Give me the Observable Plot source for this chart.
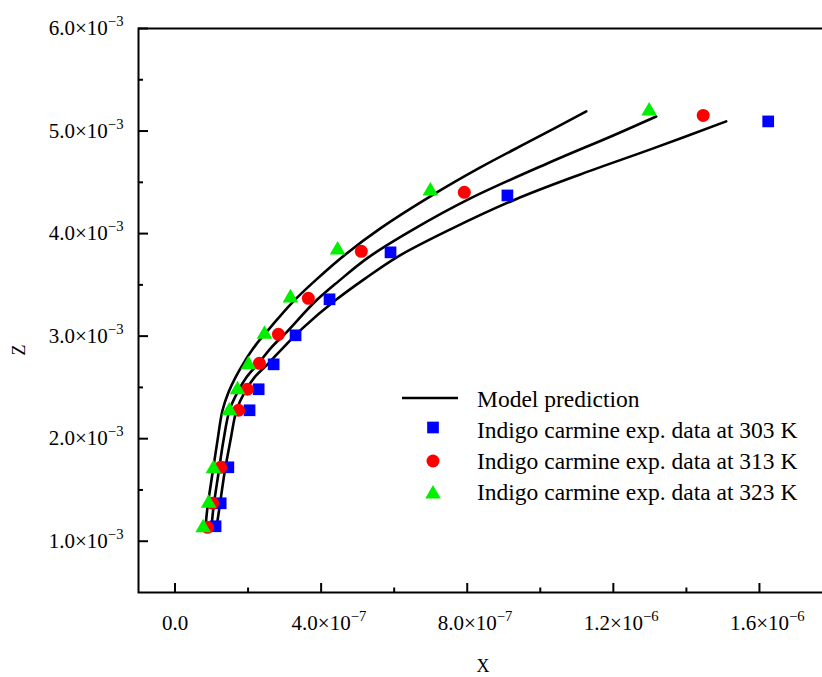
<!DOCTYPE html>
<html><head><meta charset="utf-8">
<script src="https://cdn.jsdelivr.net/npm/d3@7"></script>
<script src="https://cdn.jsdelivr.net/npm/@observablehq/plot@0.6"></script>
<style>
body{margin:0;background:#fff;}
#wrap{width:822px;height:677px;overflow:hidden;position:relative;background:#fff;}
</style></head><body><div id="wrap"></div>
<script>
// ---- tick definitions ----
const xTicks = [0, 4e-7, 8e-7, 1.2e-6, 1.6e-6];
const xTickLabels = ["0.0", "4.0×10^−7", "8.0×10^−7", "1.2×10^−6", "1.6×10^−6"];
const xMinorTicks = [2e-7, 6e-7, 1.0e-6, 1.4e-6];
const yTicks = [1e-3, 2e-3, 3e-3, 4e-3, 5e-3, 6e-3];
const yTickLabels = ["1.0×10^−3", "2.0×10^−3", "3.0×10^−3", "4.0×10^−3", "5.0×10^−3", "6.0×10^−3"];
const yMinorTicks = [1.5e-3, 2.5e-3, 3.5e-3, 4.5e-3, 5.5e-3];
const xTitle = "X";
const yTitle = "Z";
const legendLabels = ["Model prediction", "Indigo carmine exp. data at 303 K", "Indigo carmine exp. data at 313 K", "Indigo carmine exp. data at 323 K"];

// ---- experimental data ----
const x303 = [1.11e-7, 1.25e-7, 1.46e-7, 2.04e-7, 2.29e-7, 2.70e-7, 3.30e-7, 4.23e-7, 5.90e-7, 9.10e-7, 1.624e-6];
const z303 = [1.146e-3, 1.370e-3, 1.721e-3, 2.277e-3, 2.482e-3, 2.725e-3, 3.008e-3, 3.359e-3, 3.817e-3, 4.372e-3, 5.094e-3];
const x313 = [0.89e-7, 1.03e-7, 1.25e-7, 1.74e-7, 1.98e-7, 2.31e-7, 2.83e-7, 3.65e-7, 5.10e-7, 7.92e-7, 1.446e-6];
const z313 = [1.136e-3, 1.370e-3, 1.721e-3, 2.277e-3, 2.482e-3, 2.735e-3, 3.018e-3, 3.369e-3, 3.827e-3, 4.402e-3, 5.152e-3];
const x323 = [0.77e-7, 0.92e-7, 1.05e-7, 1.49e-7, 1.71e-7, 2.01e-7, 2.45e-7, 3.16e-7, 4.45e-7, 6.99e-7, 1.298e-6];
const z323 = [1.132e-3, 1.370e-3, 1.707e-3, 2.272e-3, 2.477e-3, 2.720e-3, 3.018e-3, 3.373e-3, 3.841e-3, 4.416e-3, 5.196e-3];

// ---- model curves ----
const mx323 = [0.834e-7, 0.889e-7, 1.026e-7, 1.163e-7, 1.300e-7, 1.464e-7, 1.655e-7, 1.874e-7, 2.202e-7, 2.613e-7, 3.215e-7, 3.844e-7, 4.665e-7, 5.622e-7, 6.990e-7, 8.359e-7, 9.809e-7, 11.259e-7];
const mz323 = [1.136e-3, 1.331e-3, 1.663e-3, 1.984e-3, 2.277e-3, 2.452e-3, 2.598e-3, 2.735e-3, 2.910e-3, 3.086e-3, 3.330e-3, 3.544e-3, 3.797e-3, 4.051e-3, 4.363e-3, 4.645e-3, 4.918e-3, 5.191e-3];
const mx313 = [0.999e-7, 1.053e-7, 1.190e-7, 1.327e-7, 1.491e-7, 1.710e-7, 1.956e-7, 2.285e-7, 2.640e-7, 3.051e-7, 3.817e-7, 4.473e-7, 5.294e-7, 6.525e-7, 8.085e-7, 10.192e-7, 11.997e-7, 13.174e-7];
const mz313 = [1.136e-3, 1.331e-3, 1.663e-3, 1.984e-3, 2.277e-3, 2.452e-3, 2.598e-3, 2.735e-3, 2.891e-3, 3.037e-3, 3.330e-3, 3.534e-3, 3.768e-3, 4.041e-3, 4.343e-3, 4.684e-3, 4.957e-3, 5.142e-3];
const mx303 = [1.135e-7, 1.218e-7, 1.354e-7, 1.518e-7, 1.683e-7, 1.902e-7, 2.175e-7, 2.558e-7, 2.996e-7, 3.488e-7, 4.391e-7, 5.212e-7, 6.115e-7, 7.538e-7, 9.316e-7, 11.094e-7, 13.092e-7, 15.089e-7];
const mz303 = [1.136e-3, 1.331e-3, 1.663e-3, 1.984e-3, 2.277e-3, 2.452e-3, 2.598e-3, 2.735e-3, 2.901e-3, 3.076e-3, 3.349e-3, 3.563e-3, 3.778e-3, 4.041e-3, 4.333e-3, 4.577e-3, 4.831e-3, 5.094e-3];

// ---- build tables ----
const zip = (xs, zs, s) => xs.map((x, i) => ({x, z: zs[i], s}));
const d303 = zip(x303, z303, "303");
const d313 = zip(x313, z313, "313");
const d323 = zip(x323, z323, "323");
const model = [...zip(mx323, mz323, "323"), ...zip(mx313, mz313, "313"), ...zip(mx303, mz303, "303")];
const xLabelMap = new Map(xTicks.map((t, i) => [t, xTickLabels[i]]));
const yLabelMap = new Map(yTicks.map((t, i) => [t, yTickLabels[i]]));

const FONT = "Liberation Serif";
const TICKFS = 21;
const GREEN = "#00f000";

const plot = Plot.plot({
  width: 832, height: 677,
  marginLeft: 138, marginRight: 0, marginTop: 28, marginBottom: 85,
  x: {domain: [-1e-7, 1.8e-6], axis: null},
  y: {domain: [0.5e-3, 6e-3], axis: null},
  style: {fontFamily: FONT, background: "white", color: "black"},
  marks: [
    Plot.line(model, {x: "x", y: "z", z: "s", stroke: "black", strokeWidth: 2.6, curve: "catmull-rom"}),
    Plot.dot(d303, {x: "x", y: "z", symbol: "square", fill: "#0000ff", r: 6.6}),
    Plot.dot(d313, {x: "x", y: "z", symbol: "circle", fill: "#ff0000", r: 6.5}),
    Plot.dot(d323, {x: "x", y: "z", symbol: "triangle", fill: GREEN, r: 5.8}),
    Plot.axisX(xTicks, {anchor: "bottom", tickSize: -9, tickFormat: () => "", strokeWidth: 2, label: null}),
    Plot.axisX(xMinorTicks, {anchor: "bottom", tickSize: -4.5, tickFormat: () => "", strokeWidth: 2, label: null}),
    Plot.axisX(xTicks, {anchor: "bottom", tickSize: 0, tickPadding: 23, tickFormat: d => xLabelMap.get(d) ?? "", fontSize: TICKFS, label: null}),
    Plot.axisY(yTicks, {anchor: "left", tickSize: -10, tickFormat: () => "", strokeWidth: 2, label: null}),
    Plot.axisY(yMinorTicks, {anchor: "left", tickSize: -5, tickFormat: () => "", strokeWidth: 2, label: null}),
    Plot.axisY(yTicks, {anchor: "left", tickSize: 0, tickPadding: 15, tickFormat: d => yLabelMap.get(d) ?? "", fontSize: TICKFS, label: null}),
    Plot.frame({stroke: "black", strokeWidth: 2})
  ]
});
plot.style.maxWidth = "none";
document.getElementById("wrap").appendChild(plot);

const svg = d3.select(plot);
// superscripts in tick labels
function supify(selector, centerBase) {
  svg.selectAll(selector).each(function () {
    const t = this.textContent;
    const m = t.match(/^(.*)×10\^(.*)$/);
    if (!m) return;
    const el = d3.select(this);
    el.text(null);
    el.append("tspan").text(m[1] + "×10");
    const sup = el.append("tspan").attr("dy", -9).attr("font-size", TICKFS * 0.7).text(m[2]);
    if (centerBase) {
      const w = sup.node().getComputedTextLength();
      const tr = el.attr("transform") || "";
      el.attr("transform", tr + ` translate(${w / 2},0)`);
    }
  });
}
supify('g[aria-label="x-axis tick label"] text', true);
supify('g[aria-label="y-axis tick label"] text', false);

// axis titles
svg.append("text").attr("x", 483).attr("y", 666).attr("dy", "0.35em").attr("text-anchor", "middle")
  .attr("font-family", FONT).attr("font-size", 18).text(xTitle);
svg.append("text").attr("transform", "translate(19,350) rotate(-90)").attr("dy", "0.35em").attr("text-anchor", "middle")
  .attr("font-family", FONT).attr("font-size", 18).text(yTitle);

// legend
const lg = svg.append("g").attr("font-family", FONT).attr("font-size", 23.5).attr("text-anchor", "start");
lg.append("line").attr("x1", 402).attr("x2", 458).attr("y1", 398).attr("y2", 398).attr("stroke", "black").attr("stroke-width", 2.6);
const legSyms = [
  {sym: d3.symbolSquare, r: 6.6, fill: "#0000ff", y: 427.5},
  {sym: d3.symbolCircle, r: 6.5, fill: "#ff0000", y: 461},
  {sym: d3.symbolTriangle, r: 5.8, fill: GREEN, y: 494}
];
legSyms.forEach(s => {
  lg.append("path").attr("d", d3.symbol(s.sym, Math.PI * s.r * s.r)()).attr("transform", `translate(433,${s.y})`).attr("fill", s.fill);
});
const baselines = [407, 438, 469, 500];
legendLabels.forEach((l, i) => {
  lg.append("text").attr("x", 477).attr("y", baselines[i]).text(l);
});
</script></body></html>
